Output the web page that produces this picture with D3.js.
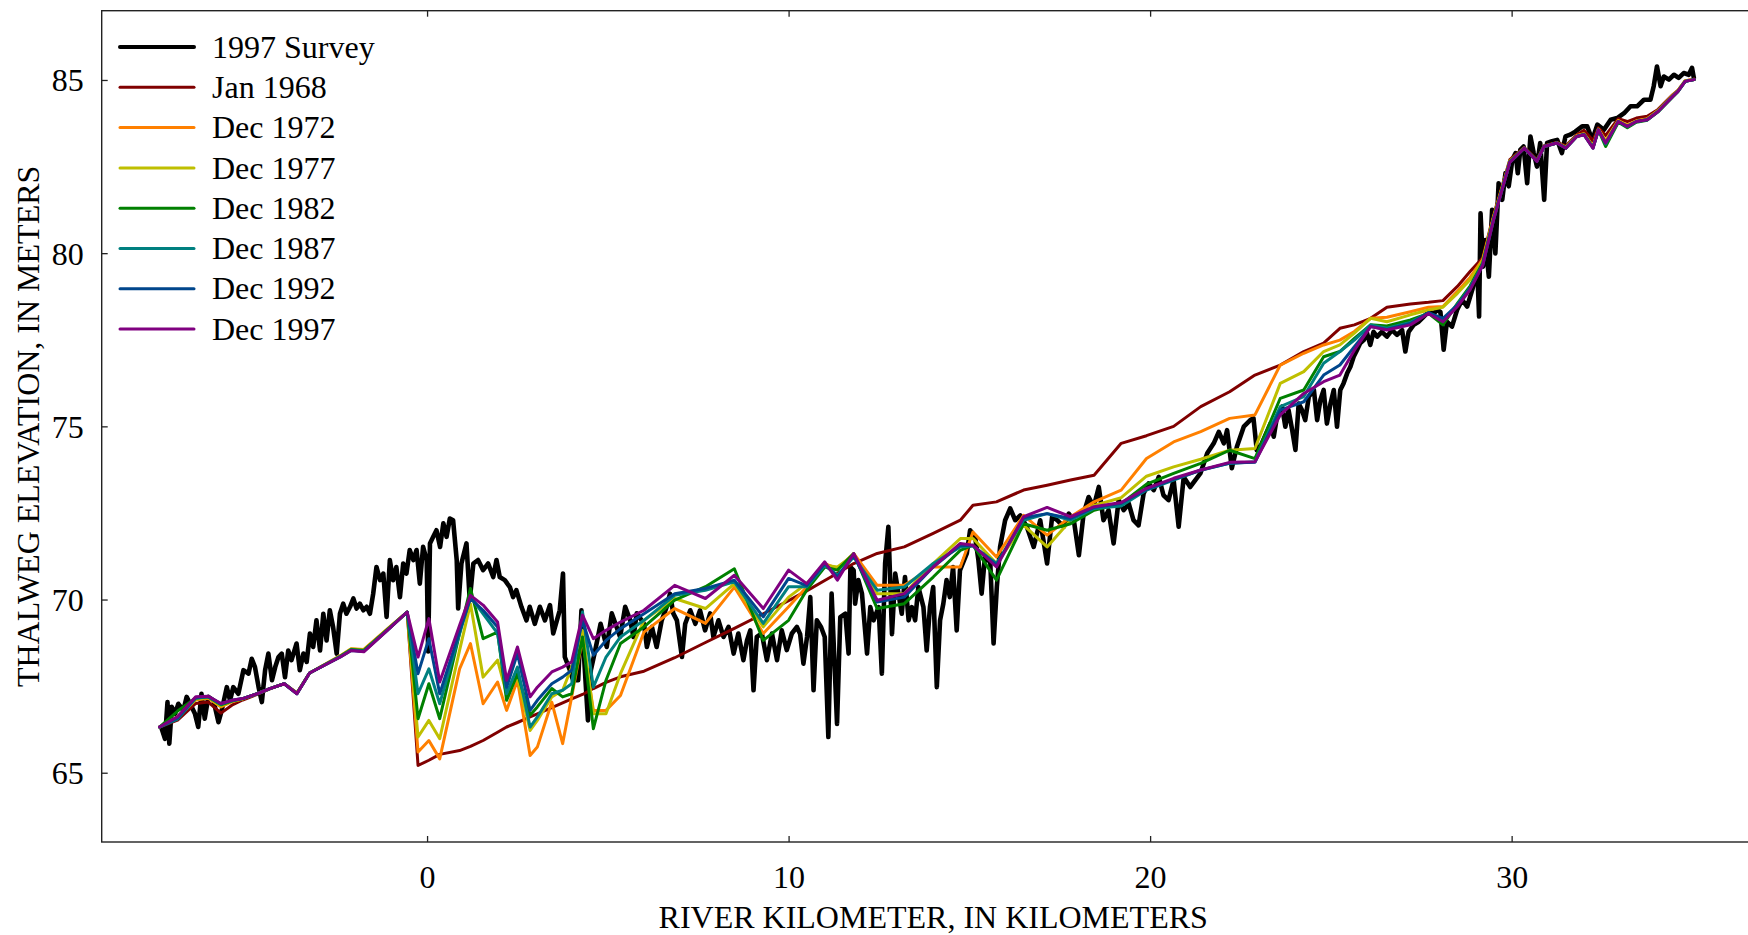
<!DOCTYPE html>
<html>
<head>
<meta charset="utf-8">
<script src="https://cdn.jsdelivr.net/npm/d3@7"></script>
<style>
  html, body { margin: 0; padding: 0; background: #fff; }
  svg { display: block; }
  text { font-family: "Liberation Serif", "Times New Roman", serif; fill: #000; }
</style>
</head>
<body>
<svg id="chart" width="1748" height="935"></svg>
<script>
// Thalweg elevation profiles along the river, by survey date.

const xTicks = [0, 10, 20, 30];
const yTicks = [65, 70, 75, 80, 85];

const legendLabels = ["1997 Survey", "Jan 1968", "Dec 1972", "Dec 1977", "Dec 1982", "Dec 1987", "Dec 1992", "Dec 1997"];
const legendColors = ["#000000", "#800000", "#ff8000", "#bfbf00", "#008000", "#008080", "#00468c", "#800080"];

// Cross-section stations (river km) shared by the modelled profiles
const stations = [
  -7.4, -6.9, -6.4, -6.05, -5.7, -5.4, -5.1, -4.7, -4.35, -3.95, -3.6, -3.25, -2.4, -2.1, -1.75, -1.1, -0.55,
  -0.25, 0.05, 0.35, 0.9, 1.2, 1.55, 1.95, 2.2, 2.5, 2.85, 3.05, 3.45, 3.75, 4.0, 4.3, 4.6, 4.95, 5.35,
  6.0, 6.85, 7.7, 8.5, 9.3, 10.0, 10.5, 11.0, 11.35, 11.8, 12.45, 13.2, 14.0, 14.75, 15.1, 15.75,
  16.5, 17.15, 17.8, 18.45, 19.2, 19.9, 20.65, 21.4, 22.2, 22.9, 23.6, 24.25, 24.8, 25.25, 25.65,
  26.1, 26.55, 27.2, 27.7, 28.1, 28.5, 28.85, 29.2, 29.5, 29.95, 30.35, 30.7, 30.9, 31.25, 31.5,
  31.8, 32.0, 32.25, 32.4, 32.6, 32.95, 33.2, 33.45, 33.75, 34.05, 34.45, 34.6, 34.8, 35.05
];

const jan1968 = [
  66.32, 66.52, 67.0, 67.04, 66.72, 66.95, 67.1, 67.26, 67.42, 67.57, 67.3, 67.88, 68.36, 68.55, 68.52, 69.13, 69.64,
  65.21, 65.36, 65.53, 65.64, 65.76, 65.93, 66.17, 66.32, 66.45, 66.61, 66.70, 66.88, 67.02, 67.13, 67.26, 67.43, 67.61, 67.77,
  67.93, 68.32, 68.76, 69.17, 69.59, 69.97, 70.25, 70.55, 70.76, 71.04, 71.33, 71.52, 71.91, 72.29, 72.72, 72.82,
  73.16, 73.30, 73.45, 73.59, 74.51, 74.73, 75.0, 75.57, 76.0, 76.48, 76.77, 77.16, 77.40, 77.83, 77.93,
  78.12, 78.44, 78.53, 78.58, 78.63, 79.04, 79.47, 79.87, 81.10, 82.70, 83.05, 82.70, 83.10, 83.20, 83.10,
  83.42, 83.55, 83.25, 83.62, 83.40, 83.88, 83.80, 83.90, 83.95, 84.15, 84.57, 84.70, 84.97, 85.02
];

const dec1972 = [
  66.32, 66.6, 67.1, 67.15, 66.9, 67.05, 67.13, 67.28, 67.43, 67.57, 67.3, 67.88, 68.38, 68.58, 68.56, 69.15, 69.64,
  65.6, 65.93, 65.40, 68.0, 68.73, 66.99, 67.62, 66.80, 67.67, 65.50, 65.74, 67.04, 65.84, 67.19, 68.87, 66.80, 66.80, 67.23,
  69.06, 69.74, 69.31, 70.36, 69.02, 69.79, 70.36, 71.04, 70.89, 71.33, 70.41, 70.41, 70.94, 70.94, 71.95, 71.23,
  72.43, 71.86, 72.39, 72.82, 73.16, 74.07, 74.55, 74.85, 75.23, 75.33, 76.77, 77.11, 77.35, 77.49, 77.74,
  78.12, 78.15, 78.31, 78.44, 78.46, 78.90, 79.30, 79.82, 81.05, 82.66, 83.04, 82.67, 83.09, 83.19, 83.06,
  83.40, 83.45, 83.10, 83.58, 83.25, 83.83, 83.70, 83.82, 83.88, 84.12, 84.55, 84.70, 84.98, 85.02
];

const dec1977 = [
  66.32, 66.62, 67.12, 67.17, 66.93, 67.07, 67.13, 67.28, 67.43, 67.57, 67.29, 67.88, 68.37, 68.57, 68.54, 69.14, 69.64,
  66.03, 66.51, 65.98, 68.54, 69.88, 67.76, 68.25, 67.28, 67.76, 66.22, 66.51, 67.19, 67.38, 68.05, 69.11, 66.70, 66.70, 67.86,
  69.40, 70.03, 69.74, 70.46, 69.21, 70.07, 70.46, 70.99, 70.94, 71.28, 70.17, 70.17, 71.04, 71.76, 71.76, 71.04,
  72.15, 71.52, 72.29, 72.72, 72.94, 73.56, 73.83, 74.05, 74.31, 74.36, 76.24, 76.58, 77.16, 77.35, 77.69,
  78.12, 78.02, 78.22, 78.36, 78.44, 78.84, 79.23, 79.78, 81.03, 82.65, 83.03, 82.66, 83.08, 83.18, 83.05,
  83.38, 83.44, 83.07, 83.57, 83.22, 83.82, 83.68, 83.81, 83.87, 84.11, 84.54, 84.69, 84.97, 85.01
];

const dec1982 = [
  66.32, 66.78, 67.16, 67.19, 66.96, 67.07, 67.14, 67.28, 67.43, 67.57, 67.29, 67.88, 68.36, 68.56, 68.53, 69.13, 69.64,
  66.56, 67.57, 66.56, 69.03, 70.32, 68.87, 69.06, 67.09, 67.86, 66.66, 66.90, 67.43, 67.19, 67.28, 68.92, 66.27, 67.67, 68.73,
  69.21, 69.98, 70.37, 70.89, 68.82, 69.40, 70.27, 70.94, 70.85, 71.33, 69.74, 69.88, 70.65, 71.42, 71.57, 70.56,
  72.19, 72.0, 72.19, 72.58, 72.77, 73.33, 73.64, 73.93, 74.31, 74.07, 75.81, 76.05, 77.01, 77.16, 77.54,
  77.93, 77.90, 78.07, 78.26, 77.93, 78.55, 79.05, 79.72, 81.0, 82.64, 83.03, 82.66, 83.08, 83.18, 83.04,
  83.37, 83.43, 83.05, 83.55, 83.08, 83.78, 83.62, 83.78, 83.84, 84.08, 84.50, 84.66, 84.96, 85.01
];

const dec1987 = [
  66.32, 66.55, 67.15, 67.19, 66.98, 67.08, 67.14, 67.28, 67.43, 67.57, 67.28, 67.88, 68.35, 68.54, 68.51, 69.12, 69.64,
  67.28, 68.0, 66.99, 69.02, 70.08, 69.59, 69.02, 67.28, 68.05, 66.32, 66.61, 67.28, 67.38, 67.57, 69.64, 67.47, 68.34, 68.92,
  69.40, 70.12, 70.27, 70.51, 69.31, 70.37, 70.37, 70.99, 70.70, 71.23, 70.27, 70.36, 71.04, 71.52, 71.55, 71.04,
  72.29, 72.48, 72.29, 72.63, 72.70, 73.16, 73.45, 73.74, 73.93, 73.98, 75.57, 75.86, 76.82, 77.16, 77.49,
  77.93, 77.83, 78.0, 78.28, 78.07, 78.52, 79.0, 79.68, 80.98, 82.63, 83.03, 82.66, 83.08, 83.18, 83.04,
  83.37, 83.43, 83.05, 83.56, 83.15, 83.80, 83.65, 83.80, 83.85, 84.09, 84.52, 84.67, 84.96, 85.01
];

const dec1992 = [
  66.32, 66.58, 67.17, 67.2, 66.99, 67.09, 67.14, 67.28, 67.43, 67.57, 67.28, 67.88, 68.34, 68.53, 68.5, 69.11, 69.64,
  67.86, 68.87, 67.28, 69.08, 70.03, 69.69, 69.21, 67.47, 68.44, 66.80, 67.09, 67.57, 67.76, 67.96, 69.40, 68.39, 68.82, 69.16,
  69.59, 70.17, 70.32, 70.56, 69.50, 70.61, 70.40, 71.04, 70.65, 71.28, 69.93, 70.07, 70.94, 71.57, 71.55, 70.99,
  72.36, 72.48, 72.34, 72.66, 72.78, 73.18, 73.47, 73.73, 73.94, 73.96, 75.47, 75.71, 76.48, 76.77, 77.30,
  77.88, 77.80, 77.97, 78.28, 78.12, 78.50, 78.98, 79.65, 80.96, 82.62, 83.03, 82.65, 83.08, 83.18, 83.03,
  83.37, 83.42, 83.03, 83.56, 83.18, 83.80, 83.66, 83.80, 83.85, 84.09, 84.52, 84.67, 84.96, 85.01
];

const dec1997 = [
  66.32, 66.62, 67.19, 67.21, 67.0, 67.09, 67.14, 67.28, 67.43, 67.57, 67.28, 67.88, 68.34, 68.53, 68.49, 69.11, 69.64,
  68.34, 69.45, 67.62, 69.26, 70.12, 69.84, 69.35, 67.67, 68.63, 67.19, 67.47, 67.91, 68.05, 68.2, 69.55, 68.87, 69.11, 69.35,
  69.69, 70.41, 70.03, 70.70, 69.74, 70.85, 70.46, 71.09, 70.56, 71.33, 69.98, 70.17, 70.94, 71.62, 71.57, 70.94,
  72.39, 72.66, 72.39, 72.68, 72.80, 73.21, 73.50, 73.74, 73.96, 73.98, 75.33, 75.95, 76.29, 76.48, 77.20,
  77.88, 77.78, 77.93, 78.26, 78.02, 78.46, 78.94, 79.65, 80.96, 82.62, 83.03, 82.65, 83.08, 83.18, 83.03,
  83.37, 83.42, 83.03, 83.56, 83.18, 83.80, 83.66, 83.80, 83.85, 84.09, 84.52, 84.67, 84.96, 85.01
];

// 1997 thalweg survey, river km and elevation (m)
const surveyKm = [
  -7.34, -7.25, -7.18, -7.13, -7.06, -6.97, -6.88, -6.74, -6.65, -6.51, -6.42, -6.33, -6.24, -6.15, -6.05, -5.91,
  -5.77, -5.68, -5.54, -5.45, -5.36, -5.22, -5.08, -4.94, -4.85, -4.76, -4.66, -4.57, -4.48, -4.39, -4.29, -4.20,
  -4.11, -4.02, -3.93, -3.84, -3.75, -3.61, -3.52, -3.42, -3.33, -3.24, -3.15, -3.06, -2.96, -2.87, -2.78, -2.69,
  -2.60, -2.50, -2.41, -2.32, -2.23, -2.13, -2.04, -1.95, -1.86, -1.76, -1.67, -1.58, -1.49, -1.40, -1.30, -1.21,
  -1.12, -1.03, -0.94, -0.85, -0.75, -0.66, -0.57, -0.48, -0.38, -0.29, -0.20, -0.11, -0.01, 0.03, 0.08, 0.17,
  0.26, 0.36, 0.45, 0.54, 0.63, 0.72, 0.82, 0.86, 0.95, 1.09, 1.18, 1.28, 1.41, 1.55, 1.69, 1.83,
  1.92, 2.01, 2.15, 2.29, 2.38, 2.47, 2.61, 2.75, 2.84, 2.98, 3.12, 3.26, 3.40, 3.49, 3.67, 3.76,
  3.81, 3.95, 4.04, 4.18, 4.27, 4.36, 4.45, 4.53, 4.65, 4.80, 4.97, 5.11, 5.34, 5.48, 5.62, 5.71,
  5.80, 6.00, 6.08, 6.22, 6.35, 6.49, 6.63, 6.72, 6.81, 6.91, 7.05, 7.14, 7.28, 7.42, 7.55, 7.69,
  7.83, 7.92, 8.06, 8.20, 8.34, 8.48, 8.61, 8.75, 8.85, 8.94, 9.03, 9.12, 9.26, 9.40, 9.54, 9.68,
  9.81, 9.95, 10.09, 10.23, 10.32, 10.41, 10.51, 10.60, 10.69, 10.78, 10.90, 11.00, 11.10, 11.19, 11.34, 11.43,
  11.57, 11.66, 11.71, 11.80, 11.84, 11.93, 12.03, 12.17, 12.26, 12.35, 12.49, 12.58, 12.67, 12.76, 12.86, 12.95,
  13.04, 13.13, 13.22, 13.32, 13.41, 13.50, 13.59, 13.73, 13.82, 13.91, 14.00, 14.10, 14.19, 14.28, 14.37, 14.46,
  14.55, 14.65, 14.74, 14.93, 15.02, 15.16, 15.25, 15.34, 15.44, 15.58, 15.67, 15.76, 15.85, 15.99, 16.13, 16.27,
  16.41, 16.59, 16.78, 16.96, 17.15, 17.29, 17.43, 17.61, 17.75, 17.89, 18.03, 18.16, 18.30, 18.44, 18.58, 18.71,
  18.85, 18.99, 19.13, 19.27, 19.41, 19.54, 19.68, 19.82, 19.96, 20.10, 20.24, 20.37, 20.51, 20.65, 20.79, 20.93,
  21.11, 21.25, 21.39, 21.58, 21.76, 21.90, 22.04, 22.13, 22.26, 22.40, 22.59, 22.77, 22.86, 22.95, 23.05, 23.33,
  23.42, 23.51, 23.65, 23.74, 23.83, 23.93, 24.02, 24.11, 24.20, 24.29, 24.39, 24.53, 24.62, 24.71, 24.80, 24.89,
  24.99, 25.08, 25.17, 25.26, 25.35, 25.45, 25.54, 25.63, 25.72, 25.81, 25.91, 26.00, 26.09, 26.18, 26.28, 26.41,
  26.55, 26.69, 26.83, 26.97, 27.06, 27.15, 27.29, 27.43, 27.57, 27.71, 27.85, 27.94, 28.03, 28.12, 28.21, 28.35,
  28.49, 28.63, 28.77, 28.91, 29.05, 29.10, 29.14, 29.21, 29.27, 29.37, 29.46, 29.55, 29.64, 29.74, 29.83, 29.92,
  30.02, 30.11, 30.17, 30.24, 30.33, 30.43, 30.52, 30.61, 30.70, 30.79, 30.90, 30.98, 31.12, 31.26, 31.39, 31.49,
  31.62, 31.76, 31.95, 32.09, 32.23, 32.37, 32.55, 32.74, 32.92, 33.11, 33.29, 33.47, 33.66, 33.84, 33.93, 34.02,
  34.12, 34.21, 34.35, 34.49, 34.62, 34.76, 34.90, 34.99, 35.04
];

const surveyElev = [
  66.27, 65.98, 67.04, 65.84, 66.90, 66.70, 66.99, 66.80, 67.19, 66.90, 66.70, 66.32, 67.28, 66.56, 67.19, 67.09,
  66.46, 66.80, 67.47, 67.09, 67.47, 67.28, 67.96, 67.86, 68.29, 68.05, 67.47, 67.04, 67.96, 68.44, 67.67, 68.05,
  68.34, 68.44, 67.76, 68.53, 68.25, 68.73, 67.96, 68.44, 68.20, 69.02, 68.63, 69.40, 68.53, 69.59, 68.82, 69.69,
  69.21, 68.44, 69.59, 69.88, 69.59, 69.79, 70.03, 69.74, 69.88, 69.69, 69.79, 69.59, 70.17, 70.94, 70.56, 70.75,
  69.50, 71.14, 70.56, 70.94, 70.07, 71.04, 70.75, 71.43, 71.14, 71.43, 70.46, 71.52, 71.14, 68.50, 71.62, 71.81,
  72.00, 71.52, 72.20, 71.81, 72.34, 72.29, 71.14, 69.74, 71.04, 71.62, 69.98, 71.04, 71.14, 70.85, 71.04, 70.65,
  71.14, 70.65, 70.56, 70.36, 70.07, 70.27, 69.79, 69.40, 69.79, 69.30, 69.79, 69.40, 69.84, 69.02, 69.69, 70.75,
  68.34, 67.96, 67.67, 67.67, 69.69, 68.05, 66.51, 67.96, 68.53, 69.30, 68.63, 69.60, 68.92, 69.79, 69.40, 68.92,
  69.60, 69.30, 68.63, 69.21, 68.63, 69.40, 69.79, 70.17, 69.60, 69.40, 68.34, 69.30, 69.69, 69.30, 69.69, 69.11,
  69.60, 68.92, 69.40, 68.92, 69.21, 68.44, 69.02, 68.25, 68.82, 69.11, 67.38, 68.92, 69.02, 68.25, 69.02, 68.25,
  69.11, 68.54, 69.02, 69.21, 69.00, 68.15, 68.92, 70.07, 67.38, 69.40, 69.20, 68.92, 66.03, 70.17, 66.41, 69.49,
  69.59, 68.44, 70.94, 70.84, 69.88, 70.56, 70.17, 68.44, 69.78, 69.40, 69.78, 67.86, 71.04, 72.10, 69.00, 70.75,
  70.17, 69.59, 70.65, 69.40, 69.78, 69.40, 70.36, 69.78, 68.53, 69.78, 70.36, 67.47, 69.40, 69.88, 70.56, 70.07,
  70.94, 69.11, 70.84, 71.33, 72.00, 71.81, 71.14, 70.17, 71.33, 71.04, 68.73, 70.36, 71.52, 72.29, 72.63, 72.29,
  72.43, 72.10, 71.52, 72.29, 71.04, 72.39, 72.29, 72.10, 72.48, 72.29, 71.28, 72.48, 72.96, 72.68, 73.25, 72.29,
  72.58, 71.62, 72.87, 72.58, 72.77, 72.29, 72.14, 73.06, 73.35, 73.16, 73.54, 73.01, 72.87, 73.45, 72.10, 73.54,
  73.25, 73.45, 73.64, 74.22, 74.51, 74.84, 74.51, 74.89, 73.79, 74.41, 74.99, 75.18, 75.23, 74.31, 74.41, 75.08,
  74.70, 75.28, 75.57, 74.99, 75.47, 74.89, 74.32, 75.66, 75.47, 75.18, 75.86, 76.05, 75.18, 75.76, 76.05, 75.08,
  75.66, 76.05, 74.99, 76.05, 76.24, 76.53, 76.72, 77.01, 77.20, 77.40, 77.49, 77.69, 77.35, 77.73, 77.59, 77.73,
  77.59, 77.78, 77.64, 77.78, 77.16, 77.73, 77.93, 78.02, 78.17, 78.31, 78.26, 78.36, 78.30, 77.21, 78.02, 77.88,
  78.36, 78.65, 78.46, 78.94, 79.52, 78.17, 81.15, 79.61, 80.38, 79.32, 81.25, 79.99, 82.02, 81.54, 82.31, 81.93,
  82.70, 82.89, 82.31, 82.98, 83.08, 82.02, 83.37, 82.89, 82.50, 83.18, 81.54, 83.18, 83.23, 83.27, 82.89, 83.37,
  83.42, 83.51, 83.66, 83.66, 83.27, 83.71, 83.56, 83.85, 83.90, 84.04, 84.24, 84.24, 84.43, 84.43, 84.82, 85.39,
  84.82, 85.10, 85.01, 85.15, 85.06, 85.20, 85.15, 85.35, 85.06
];

const profiles = [jan1968, dec1972, dec1977, dec1982, dec1987, dec1992, dec1997];

// ---- layout ----
const svg = d3.select("#chart");
const plot = { left: 101.7, right: 1764.7, top: 10.7, bottom: 842 };
const FONT = 32;

const x = d3.scaleLinear().domain([-9, 37]).range([plot.left, plot.right]);
const y = d3.scaleLinear().domain([63, 87]).range([plot.bottom, plot.top]);

const clipId = "plot-clip";
svg.append("defs").append("clipPath").attr("id", clipId)
  .append("rect")
  .attr("x", plot.left).attr("y", plot.top)
  .attr("width", plot.right - plot.left).attr("height", plot.bottom - plot.top);

const lines = svg.append("g").attr("clip-path", `url(#${clipId})`);
const lineGen = d3.line().x(d => x(d[0])).y(d => y(d[1]));

// survey line underneath the modelled profiles
lines.append("path")
  .datum(surveyKm.map((k, i) => [k, surveyElev[i]]))
  .attr("d", lineGen)
  .attr("fill", "none")
  .attr("stroke", legendColors[0])
  .attr("stroke-width", 4.6)
  .attr("stroke-linejoin", "round")
  .attr("stroke-linecap", "round");

profiles.forEach((vals, i) => {
  lines.append("path")
    .datum(stations.map((k, j) => [k, vals[j]]))
    .attr("d", lineGen)
    .attr("fill", "none")
    .attr("stroke", legendColors[i + 1])
    .attr("stroke-width", 3)
    .attr("stroke-linejoin", "round")
    .attr("stroke-linecap", "round");
});

// ---- axes (ticks pointing inward, mirrored on opposite sides) ----
const tickLen = 6;
const axisColor = "#222";

const xBottom = svg.append("g").attr("transform", `translate(0,${plot.bottom})`)
  .call(d3.axisBottom(x).tickValues(xTicks).tickSize(-tickLen).tickPadding(22).tickFormat(d3.format("d")));
const xTop = svg.append("g").attr("transform", `translate(0,${plot.top})`)
  .call(d3.axisTop(x).tickValues(xTicks).tickSize(-tickLen).tickFormat(""));
const yLeft = svg.append("g").attr("transform", `translate(${plot.left},0)`)
  .call(d3.axisLeft(y).tickValues(yTicks).tickSize(-tickLen).tickPadding(18).tickFormat(d3.format("d")));
const yRight = svg.append("g").attr("transform", `translate(${plot.right},0)`)
  .call(d3.axisRight(y).tickValues(yTicks).tickSize(-tickLen).tickFormat(""));

[xBottom, xTop, yLeft, yRight].forEach(g => {
  g.select(".domain").remove();
  g.selectAll(".tick line").attr("stroke", axisColor).attr("stroke-width", 1.3);
  g.selectAll(".tick text")
    .attr("font-family", "Liberation Serif, serif")
    .attr("font-size", FONT)
    .attr("fill", "#000");
});
xBottom.selectAll(".tick text").attr("dy", null).attr("y", 46);
yLeft.selectAll(".tick text").attr("dy", "0.34em");

// frame
svg.append("rect")
  .attr("x", plot.left).attr("y", plot.top)
  .attr("width", plot.right - plot.left).attr("height", plot.bottom - plot.top)
  .attr("fill", "none")
  .attr("stroke", axisColor)
  .attr("stroke-width", 1.4);

// axis titles
svg.append("text")
  .attr("x", (plot.left + plot.right) / 2)
  .attr("y", 928)
  .attr("text-anchor", "middle")
  .attr("font-size", FONT)
  .text("RIVER KILOMETER, IN KILOMETERS");

svg.append("text")
  .attr("transform", `translate(38.5,${(plot.top + plot.bottom) / 2}) rotate(-90)`)
  .attr("text-anchor", "middle")
  .attr("font-size", FONT)
  .text("THALWEG ELEVATION, IN METERS");

// legend
const legend = svg.append("g");
legendLabels.forEach((label, i) => {
  const cy = 47 + i * 40.3;
  legend.append("line")
    .attr("x1", 120).attr("x2", 194)
    .attr("y1", cy).attr("y2", cy)
    .attr("stroke", legendColors[i])
    .attr("stroke-width", i === 0 ? 4 : 3)
    .attr("stroke-linecap", "round");
  legend.append("text")
    .attr("x", 212)
    .attr("y", cy + 10.6)
    .attr("font-size", FONT)
    .text(label);
});
</script>
</body>
</html>
